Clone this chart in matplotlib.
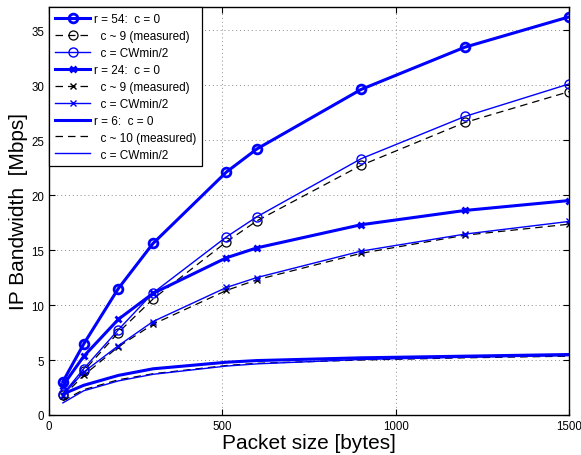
import matplotlib
matplotlib.use("Agg")
import matplotlib.pyplot as plt

plt.rcParams['font.family'] = ['Liberation Sans', 'DejaVu Sans']

packet = [40, 100, 200, 300, 512, 600, 900, 1200, 1500]

r54_c0 = [3.03, 6.45, 11.5, 15.6, 22.1, 24.2, 29.6, 33.45, 36.2]
r54_meas = [1.8, 4.0, 7.5, 10.55, 15.75, 17.66, 22.7, 26.6, 29.4]
r54_cw = [1.9, 4.2, 7.75, 11.1, 16.2, 18.03, 23.3, 27.15, 30.1]

r24_c0 = [2.67, 5.33, 8.7, 11.06, 14.3, 15.2, 17.3, 18.6, 19.5]
r24_meas = [1.7, 3.6, 6.2, 8.25, 11.33, 12.3, 14.7, 16.35, 17.35]
r24_cw = [1.8, 3.9, 6.3, 8.5, 11.6, 12.5, 14.9, 16.45, 17.6]

r6_c0 = [1.9, 2.7, 3.6, 4.2, 4.8, 4.95, 5.2, 5.35, 5.5]
r6_meas = [1.3, 2.3, 3.2, 3.75, 4.5, 4.7, 5.0, 5.2, 5.35]
r6_cw = [1.1, 2.2, 3.1, 3.7, 4.45, 4.65, 5.05, 5.25, 5.4]

labels = ["r = 54:  c = 0", "  c ~ 9 (measured)", "  c = CWmin/2",
          "r = 24:  c = 0", "  c ~ 9 (measured)", "  c = CWmin/2",
          "r = 6:  c = 0", "  c ~ 10 (measured)", "  c = CWmin/2"]

fig = plt.figure(figsize=(5.81, 4.56), dpi=100)
ax = fig.add_axes([49/581, 1-416/456, 520/581, 408/456])

blue = (0, 0, 1)
thick = 2.2
thin = 1.0
dash = (0, (6, 4))

ax.plot(packet, r54_c0, color=blue, lw=thick, marker='o', ms=6.3, mfc='none', mew=2.0, label=labels[0])
ax.plot(packet, r54_meas, color='k', lw=0.9, ls=dash, marker='o', ms=6.5, mfc='none', mew=0.9, label=labels[1])
ax.plot(packet, r54_cw, color=blue, lw=thin, marker='o', ms=6.5, mfc='none', mew=1.0, label=labels[2])

ax.plot(packet, r24_c0, color=blue, lw=thick, marker='x', ms=5, mew=2.0, label=labels[3])
ax.plot(packet, r24_meas, color='k', lw=0.9, ls=dash, marker='x', ms=5, mew=1.0, label=labels[4])
ax.plot(packet, r24_cw, color=blue, lw=thin, marker='x', ms=5, mew=1.0, label=labels[5])

ax.plot(packet, r6_c0, color=blue, lw=thick, label=labels[6])
ax.plot(packet, r6_meas, color='k', lw=0.9, ls=dash, label=labels[7])
ax.plot(packet, r6_cw, color=blue, lw=thin, label=labels[8])

ax.set_xlim(0, 1500)
ax.set_ylim(0, 37.1)
ax.set_xticks([0, 500, 1000, 1500])
ax.set_yticks([0, 5, 10, 15, 20, 25, 30, 35])
ax.tick_params(direction='in', top=True, right=True, labelsize=8.3, length=4, width=0.8)
ax.grid(True, ls=(0, (1, 3)), color='0.55', lw=0.7)
for s in ax.spines.values():
    s.set_linewidth(1.0)

ax.set_xlabel("Packet size [bytes]", fontsize=15, labelpad=1)
ax.set_ylabel("IP Bandwidth  [Mbps]", fontsize=15, labelpad=2)

leg = ax.legend(loc='upper left', fontsize=8.5, handlelength=3.0, handletextpad=0.3,
                labelspacing=0.42, borderpad=0.5, borderaxespad=0, fancybox=False,
                framealpha=1, edgecolor='k', numpoints=1)
leg.get_frame().set_linewidth(0.9)

fig.savefig("out.png", dpi=100)
